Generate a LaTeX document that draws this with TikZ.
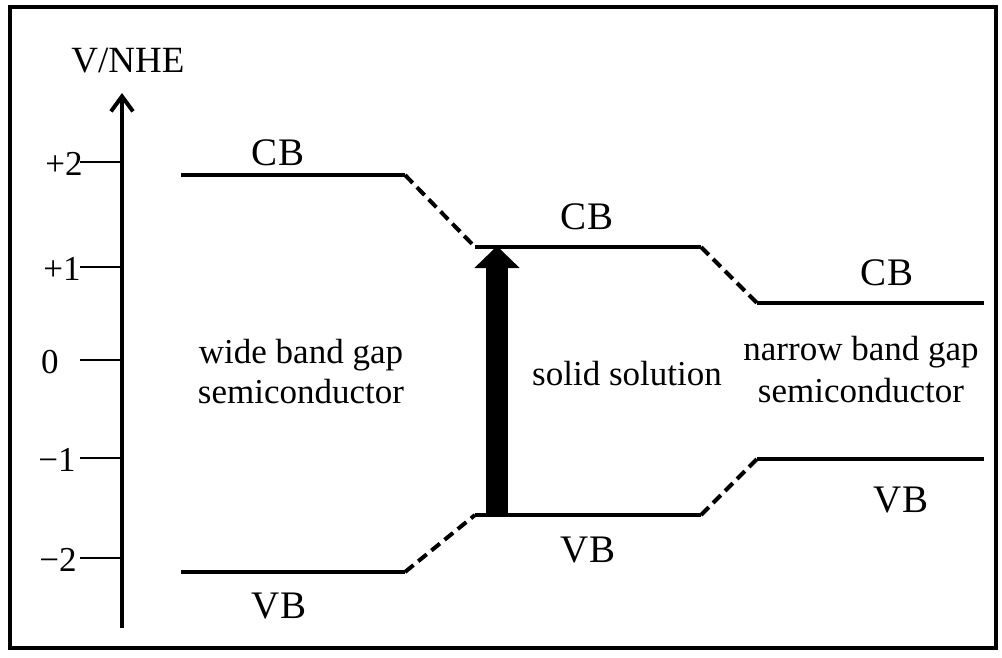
\documentclass[tikz,border=0pt]{standalone}
\usepackage{fontspec}
\setmainfont{Liberation Serif}
\usetikzlibrary{arrows.meta}
\begin{document}
\begin{tikzpicture}[x=1pt,y=-1pt,
  band/.style={line width=4pt},
  bandlink/.style={line width=4pt,dash pattern=on 11pt off 6pt},
  tickline/.style={line width=2pt},
  ticklabel/.style={font=\fontsize{35}{36}\selectfont,inner sep=0pt},
  bandlabel/.style={font=\fontsize{39}{42}\selectfont,inner sep=0pt,anchor=base},
  regionlabel/.style={font=\fontsize{35}{41}\selectfont,inner sep=0pt,align=center,anchor=base}]
\useasboundingbox (0,0) rectangle (1002,657);
\draw[line width=3.5pt] (10,7) rectangle (996,648);
% axis
\coordinate (axb) at (122,628);
\coordinate (axt) at (122,93);
\draw[line width=4pt,-{Straight Barb[length=15pt,width=22pt]}] (axb) -- (axt);
\node[font=\fontsize{37}{40}\selectfont,inner sep=0pt,anchor=base] (vnhe) at (128,72) {V/NHE};
% ticks
\foreach \n/\yy/\lx/\lab in {p2/162/64/+2, p1/267/62/+1, z/360/50/0, m1/458/57/−1, m2/558/58/−2}{
  \coordinate (t\n a) at (80,\yy);
  \coordinate (t\n b) at (122,\yy);
  \draw[tickline] (t\n a) -- (t\n b);
  \node[ticklabel] (l\n) at (\lx,\yy+2) {\lab};
}
% band coordinates
\coordinate (cb1a) at (181,175);
\coordinate (cb1b) at (405,175);
\coordinate (vb1a) at (181,572);
\coordinate (vb1b) at (405,572);
\coordinate (cb2a) at (475,247);
\coordinate (cb2b) at (701,247);
\coordinate (vb2a) at (475,515);
\coordinate (vb2b) at (701,515);
\coordinate (cb3a) at (757,303);
\coordinate (cb3b) at (984,303);
\coordinate (vb3a) at (757,459);
\coordinate (vb3b) at (984,459);
\draw[band] (cb1a) -- (cb1b);
\draw[band] (vb1a) -- (vb1b);
\draw[band] (cb2a) -- (cb2b);
\draw[band] (vb2a) -- (vb2b);
\draw[band] (cb3a) -- (cb3b);
\draw[band] (vb3a) -- (vb3b);
\draw[bandlink] (cb1b) -- (cb2a);
\draw[bandlink] (vb1b) -- (vb2a);
\draw[bandlink] (cb2b) -- (cb3a);
\draw[bandlink] (vb2b) -- (vb3a);
% big arrow
\coordinate (arb) at (497,515);
\coordinate (art) at (497,246);
\draw[line width=22pt,-{Triangle[width=44pt,length=22pt]}] (arb) -- (art);
% labels
\node[bandlabel] (cb1l) at (278,165) {CB};
\node[bandlabel] (vb1l) at (279,618) {VB};
\node[bandlabel] (cb2l) at (587,229) {CB};
\node[bandlabel] (vb2l) at (588,562) {VB};
\node[bandlabel] (cb3l) at (887,285) {CB};
\node[bandlabel] (vb3l) at (901,512) {VB};
\node[regionlabel,font=\fontsize{35}{40}\selectfont] (wide) at (301,403) {wide band gap\\semiconductor};
\node[regionlabel] (solid) at (627,385) {solid solution};
\node[regionlabel,font=\fontsize{35}{42}\selectfont] (narrow) at (861,402) {narrow band gap\\semiconductor};
\end{tikzpicture}
\end{document}
